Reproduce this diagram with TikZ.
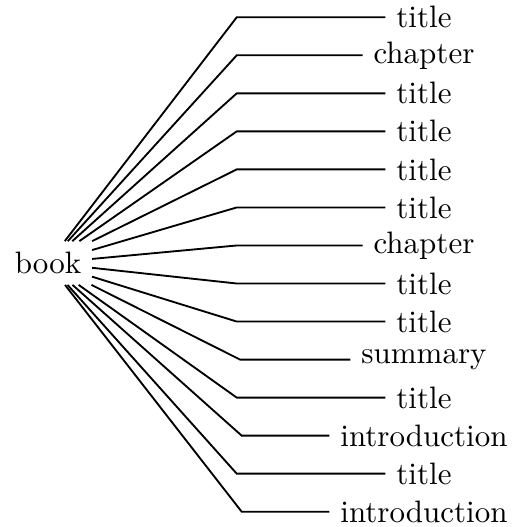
\documentclass[tikz,border=0pt]{standalone}
\tikzset{branch/.style={semithick}}
\begin{document}
\begin{tikzpicture}
\useasboundingbox (0,0) rectangle (5.794,-5.975);
\node (book) at (0.544,-2.982) {book};
\foreach \lbl/\cx [count=\i from 0] in {title/2.684, chapter/2.684, title/2.684, title/2.684, title/2.684, title/2.684, chapter/2.684, title/2.684, title/2.684, summary/2.721, title/2.684, introduction/2.740, title/2.684, introduction/2.740}
{
  \node (c\i) at (4.807,{-0.196-0.4312*\i}) {\lbl};
  \coordinate (k\i) at (\cx,{-0.196-0.4312*\i});
  \draw[branch] (book) -- (k\i) -- (c\i);
}
\end{tikzpicture}
\end{document}
